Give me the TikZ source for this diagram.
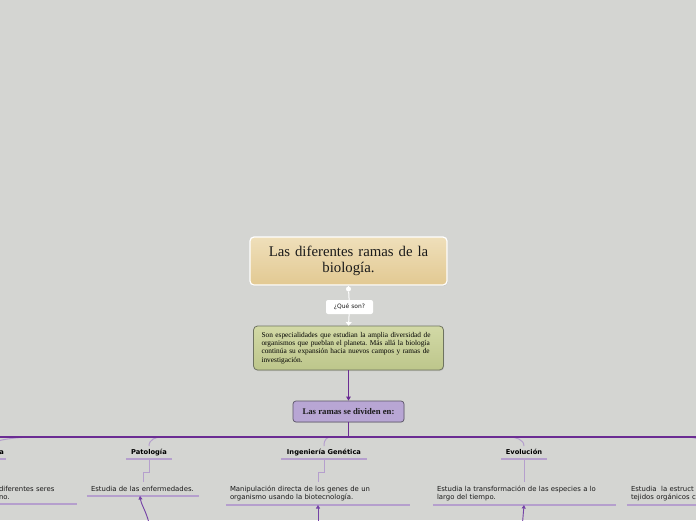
\documentclass[tikz,border=0pt]{standalone}
\usepackage{fontspec}
\setmainfont{Liberation Serif}
\newfontfamily\sansf{DejaVu Sans}
\usetikzlibrary{arrows.meta,shadows}
\frenchspacing
\definecolor{bg}{HTML}{D4D5D2}
\definecolor{titletop}{HTML}{EFDFBA}
\definecolor{titlebot}{HTML}{E2C992}
\definecolor{greentop}{HTML}{D2D9A6}
\definecolor{greenbot}{HTML}{BDC68B}
\definecolor{greenline}{HTML}{6E7360}
\definecolor{purplebox}{HTML}{B8A6D4}
\definecolor{purpleline}{HTML}{5B5468}
\definecolor{mainp}{HTML}{6B2C93}
\definecolor{lightp}{HTML}{B59FCD}
\definecolor{arrp}{HTML}{7442A6}
\definecolor{ink}{HTML}{1A1A1A}
\tikzset{
  titlebox/.style={draw=white, line width=1.2pt, rounded corners=4pt, top color=titletop, bottom color=titlebot,
    minimum width=197pt, minimum height=48pt, text width=185pt, align=center, text=ink,
    font=\fontsize{14.8}{16}\selectfont, drop shadow={opacity=0.2, shadow xshift=0.6pt, shadow yshift=-1pt}},
  labelbox/.style={fill=white, rounded corners=2pt, minimum width=47pt, minimum height=14pt, inner sep=1pt,
    font=\sansf\fontsize{6}{7}\selectfont, text=ink},
  greenbox/.style={draw=greenline, line width=0.8pt, rounded corners=4pt, top color=greentop, bottom color=greenbot,
    minimum width=190pt, minimum height=44pt, text width=174pt, align=left, text=black,
    font=\fontsize{7.35}{8.4}\selectfont, drop shadow={opacity=0.25, shadow xshift=0.6pt, shadow yshift=-1pt}},
  ramasbox/.style={draw=purpleline, line width=0.7pt, rounded corners=3pt, fill=purplebox,
    minimum width=111pt, minimum height=21pt, text=ink, font=\bfseries\fontsize{8.7}{9}\selectfont,
    drop shadow={opacity=0.2, shadow xshift=0.5pt, shadow yshift=-0.8pt}},
  hdr/.style={anchor=south, inner xsep=2pt, inner ysep=3pt, text height=5pt, text depth=1.5pt,
    font=\sansf\bfseries\fontsize{6.7}{8}\selectfont, text=black},
  txt/.style={anchor=south, inner xsep=4pt, inner ysep=4pt, align=left, text=ink,
    font=\sansf\fontsize{6.9}{8}\selectfont},
  uline/.style={draw=lightp, line width=1.4pt},
  br/.style={draw=lightp, line width=1pt},
  mainline/.style={draw=mainp, line width=1.6pt},
  arr/.style={draw=arrp, line width=0.9pt, -{Triangle[width=4pt,length=3.5pt]}},
}
\begin{document}
\begin{tikzpicture}[x=1pt,y=-1pt]
\useasboundingbox (0,0) rectangle (696,520);
\fill[bg] (0,0) rectangle (696,520);
\clip (0,0) rectangle (696,520);

% central column
\node[titlebox] (title) at (348.5,261) {Las diferentes ramas de la\\biología.};
\node[circle, fill=white, inner sep=0pt, minimum size=5pt] (dot) at (348.5,289) {};
\node[labelbox] (qs) at (349.5,307) {¿Qué son?};
\node[greenbox] (green) at (348.5,348) {Son especialidades que estudian la amplia diversidad de\\organismos que pueblan el planeta. Más allá la biología\\continúa su expansión hacia nuevos campos y ramas de\\investigación.};
\node[ramasbox] (ramas) at (348.5,411.5) {Las ramas se dividen en:};

\draw[white, line width=1pt] (title.south) -- (dot);
\draw[white, line width=1pt] (dot) -- (qs);
\draw[white, line width=1pt, -{Triangle[width=6pt,length=3.5pt]}] (qs) -- (green.north);
\draw[mainp, line width=1.2pt, -{Triangle[width=4.5pt,length=4pt]}] (green.south) -- (ramas.north);

% main horizontal line
\coordinate (hub) at (348.5,437);
\coordinate (L) at (-2,437);
\coordinate (R) at (698,437);

% headers
\node[hdr, text width=26pt, align=right] (lh) at (-9,459) {a};
\node[hdr, minimum width=46pt] (pat) at (149,459) {Patología};
\node[hdr, minimum width=86pt] (ing) at (324,459) {Ingeniería Genética};
\node[hdr, minimum width=46pt] (evo) at (524,459) {Evolución};
\foreach \h in {lh,pat,ing,evo}{\draw[uline] (\h.south west) -- (\h.south east);}

% branch curves from the main line
\coordinate (lj) at (36,437);
\coordinate (pj) at (162,437);
\coordinate (ij) at (331,437);
\coordinate (ej) at (509,437);
\coordinate (rj) at (686,437);
\coordinate (rh) at (704,448);
\draw[br] (lh.north) .. controls +(0,-7) and +(-15,0) .. (lj);
\draw[br] (pat.north) .. controls +(0,-7) and +(-6,0) .. (pj);
\draw[br] (ing.north) .. controls +(0,-7) and +(-4,0) .. (ij);
\draw[br] (evo.north) .. controls +(0,-7) and +(6,0) .. (ej);
\draw[br] (rj) .. controls (696,437) and (703,440) .. (rh);

\draw[mainline] (ramas.south) -- (hub);
\draw[mainline] (L) -- (R);

% texts
\node[txt, text width=74pt] (lt) at (36,504) {diferentes seres\\no.};
\node[txt, text width=104pt] (patt) at (143,496) {Estudia de las enfermedades.};
\node[txt, text width=176pt] (ingt) at (318,505) {Manipulación directa de los genes de un\\organismo usando la biotecnología.};
\node[txt, text width=175pt] (evot) at (524.5,505) {Estudia la transformación de las especies a lo\\largo del tiempo.};
\node[txt, text width=175pt] (rt) at (718.5,505) {Estudia\ \ la estruct\\tejidos orgánicos c};
\foreach \t in {lt,patt,ingt,evot,rt}{\draw[uline] (\t.south west) -- (\t.south east);}

% header to text connectors
\draw[br] (pat.south) -- ++(0,13) -| (patt.north);
\draw[br] (ing.south) -- ++(0,13) -| (ingt.north);
\draw[br] (evo.south) -- (evo.south |- evot.north);

% arrows coming from below
\coordinate (ps) at (149,523);
\coordinate (is) at (318,523);
\coordinate (es) at (522.5,523);
\draw[arr] (ps) .. controls (146,511) and (141,504) .. ([xshift=-3pt]patt.south);
\draw[arr] (is) -- (ingt.south);
\draw[arr] (es) -- ([xshift=-0.5pt]evot.south);
\end{tikzpicture}
\end{document}
